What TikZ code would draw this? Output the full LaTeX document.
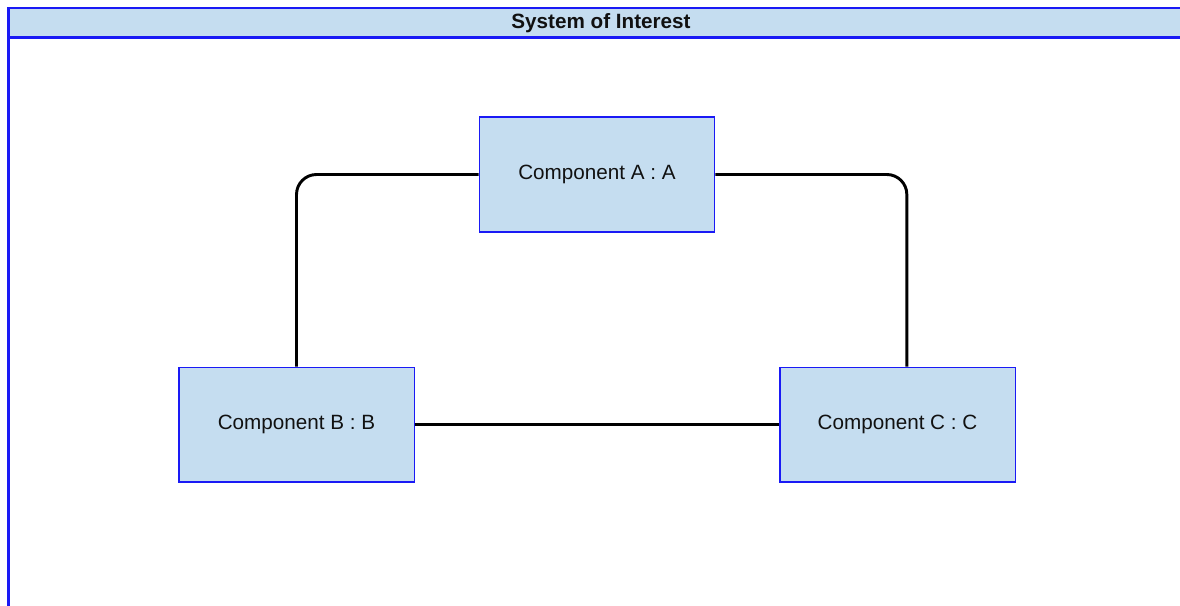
\documentclass[tikz,border=0pt]{standalone}
\usepackage{fontspec}
\setmainfont{Liberation Sans}
\usetikzlibrary{positioning}
\definecolor{frameblue}{HTML}{1A1AF5}
\definecolor{partfill}{HTML}{C5DDF0}
\definecolor{textink}{HTML}{111111}

\begin{document}
\begin{tikzpicture}[x=0.75pt,y=-0.75pt,font=\fontsize{15.5}{18}\selectfont,
  part/.style={draw=frameblue,line width=1pt,fill=partfill,text=textink,
    minimum width=176.5pt,minimum height=86pt,inner sep=0pt},
  wire/.style={line width=2.2pt,rounded corners=15pt}]
  \useasboundingbox (0,0) rectangle (1180,606);
  % enclosing block with its title band
  \fill[partfill] (8.5,8) rectangle (1182,37.5);
  \draw[frameblue,line width=1.6pt] (1182,8) -- (8.5,8) -- (8.5,608);
  \draw[frameblue,line width=1.6pt] (8.5,37.5) -- (1182,37.5);
  \node[font=\bfseries\fontsize{15.5}{18}\selectfont,text=textink] (title) at (601,23) {System of Interest};
  % the three parts
  \node[part] (compA) at (597,174.5) {Component A : A};
  \node[part] (compB) at (296.5,424.5) {Component B : B};
  \node[part] (compC) at (897.5,424.5) {Component C : C};
  % links
  \draw[wire] (compA.west) -| (compB.north);
  \draw[wire] (compA.east) -| ([xshift=7pt]compC.north);
  \draw[wire] (compB.east) -- (compC.west);
\end{tikzpicture}
\end{document}
